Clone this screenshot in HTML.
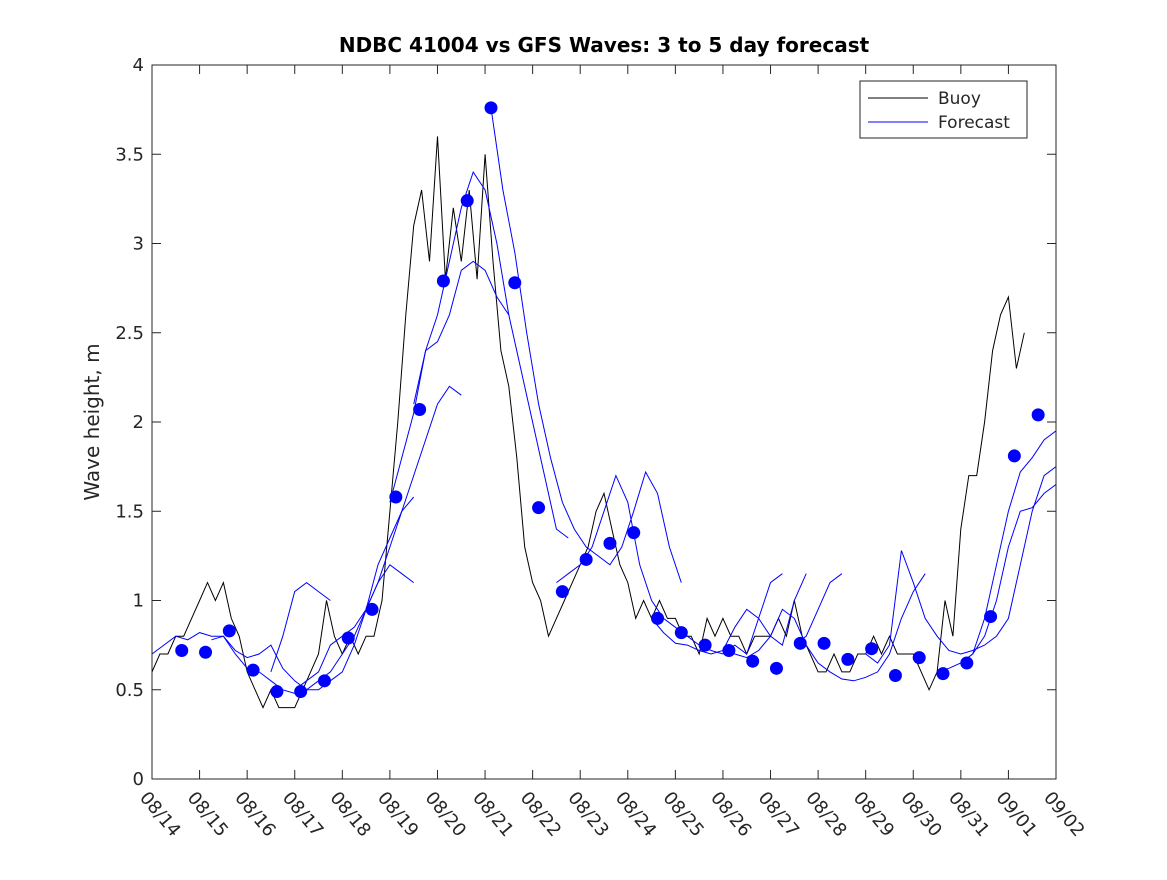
<!DOCTYPE html>
<html><head><meta charset="utf-8"><style>
body{margin:0;background:#fff}
svg text{font-family:"DejaVu Sans","Liberation Sans",sans-serif;fill:#262626}
</style></head><body>
<svg width="1167" height="875">
<defs><clipPath id="cp"><rect x="152" y="65" width="904" height="714"/></clipPath></defs>
<rect width="1167" height="875" fill="#fff"/>
<g id="plot"></g>
</svg>
<script>
const xLabels=["08/14","08/15","08/16","08/17","08/18","08/19","08/20","08/21","08/22","08/23","08/24","08/25","08/26","08/27","08/28","08/29","08/30","08/31","09/01","09/02"];
const yTicks=[0,0.5,1,1.5,2,2.5,3,3.5,4];
const buoyStart=0, buoyStep=1/6;
const buoyValues=[.6,.7,.7,.8,.8,.9, 1.0,1.1,1.0,1.1,.9,.8, .6,.5,.4,.5,.4,.4, .4,.5,.6,.7,1.0,.8, .7,.8,.7,.8,.8,1.0, 1.5,2.0,2.6,3.1,3.3,2.9, 3.6,2.8,3.2,2.9,3.3,2.8, 3.5,2.9,2.4,2.2,1.8,1.3, 1.1,1.0,.8,.9,1.0,1.1, 1.2,1.3,1.5,1.6,1.4,1.2, 1.1,.9,1.0,.9,1.0,.9, .9,.8,.8,.7,.9,.8, .9,.8,.8,.7,.8,.8, .8,.9,.8,1.0,.8,.7, .6,.6,.7,.6,.6,.7, .7,.8,.7,.8,.7,.7, .7,.6,.5,.6,1.0,.8, 1.4,1.7,1.7,2.0,2.4,2.6, 2.7,2.3,2.5];
const dotStart=0.625, dotStep=0.5;
const dotValues=[.72,.71,.83,.61,.49,.49,.55,.79,.95,1.58,2.07,2.79,3.24,3.76,2.78,1.52,1.05,1.23,1.32,1.38,.9,.82,.75,.72,.66,.62,.76,.76,.67,.73,.58,.68,.59,.65,.91,1.81,2.04];
const fcStep=0.25;
const fcStarts=[0,1.25,2.5,3,5,5.5,7.125,8.5,10.5,12,13.5,15,16.5,17];
const fcValues=[
[.7,.75,.8,.78,.82,.8,.8,.7,.62,.6,.55,.5,.48,.5,.55,.6,.7,.8,.95,1.1,1.3,1.5,1.7,1.9,2.1,2.2,2.15],
[.78,.8,.72,.68,.7,.75,.62,.55,.5,.5,.55,.6,.75,.95,1.1,1.2,1.15,1.1],
[.6,.8,1.05,1.1,1.05,1.0],
[.5,.55,.6,.75,.8,.85,.95,1.2,1.35,1.5,1.58],
[1.55,1.8,2.05,2.4,2.45,2.6,2.85,2.9,2.85,2.7,2.6],
[2.1,2.4,2.6,2.9,3.2,3.4,3.3,3.0,2.6,2.3,2.0,1.7,1.4,1.35],
[3.76,3.3,2.95,2.5,2.1,1.8,1.55,1.4,1.3,1.25,1.2,1.3,1.5,1.72,1.6,1.3,1.1],
[1.1,1.15,1.2,1.3,1.5,1.7,1.55,1.2,1.0,.9,.85,.8,.75,.72,.7,.75,.7,.9,1.1,1.15],
[.9,.82,.76,.75,.72,.7,.72,.85,.95,.9,.8,.75,1.0,1.15],
[.72,.7,.68,.72,.8,.95,.9,.75,.65,.6,.56,.55,.57,.6,.7,.9,1.05,1.15],
[.75,.8,.95,1.1,1.15],
[.7,.65,.75,1.28,1.1,.9,.8,.72,.7,.72,.75,.8,.9,1.2,1.5,1.7,1.75],
[.6,.62,.65,.7,.8,1.0,1.3,1.5,1.52,1.6,1.65],
[.65,.7,.9,1.2,1.5,1.72,1.8,1.9,1.95]];
const X0=152,X1=1056,Y0=779,Y1=65;
const xs=d=>X0+(X1-X0)*d/19, ys=v=>Y0-(Y0-Y1)*v/4;
const NS="http://www.w3.org/2000/svg", g=document.getElementById('plot');
function mk(t,a,parent){const e=document.createElementNS(NS,t);for(const k in a)e.setAttribute(k,a[k]);(parent||g).appendChild(e);return e;}
let e=mk('rect',{x:X0,y:Y1,width:X1-X0,height:Y0-Y1,fill:'#fff',stroke:'#262626','stroke-width':1});


const cg=mk('g',{'clip-path':'url(#cp)'});
let p=buoyValues.map((v,i)=>(i?'L':'M')+xs(buoyStart+i*buoyStep).toFixed(1)+','+ys(v).toFixed(1)).join('');
e=mk('path',{d:p,fill:'none',stroke:'#000','stroke-width':1},cg);


fcValues.forEach((arr,j)=>{
 const pp=arr.map((v,i)=>(i?'L':'M')+xs(fcStarts[j]+i*fcStep).toFixed(1)+','+ys(v).toFixed(1)).join('');
 const l=mk('path',{d:pp,fill:'none',stroke:'#0000ff','stroke-width':1},cg);
 
 
});
dotValues.forEach((v,i)=>{
 const c=mk('circle',{cx:xs(dotStart+i*dotStep),cy:ys(v),r:6.5,fill:'#0000ff'},cg);
 
 
});
yTicks.forEach(v=>{
 const y=ys(v);
 mk('line',{x1:X0,x2:X0+9,y1:y,y2:y,stroke:'#262626'});
 mk('line',{x1:X1,x2:X1-9,y1:y,y2:y,stroke:'#262626'});
 const t=mk('text',{x:X0-8,y:y+6,'text-anchor':'end','font-size':18});
 t.textContent=String(v);
 
 
});
xLabels.forEach((s,i)=>{
 const x=xs(i);
 mk('line',{x1:x,x2:x,y1:Y0,y2:Y0-9,stroke:'#262626'});
 mk('line',{x1:x,x2:x,y1:Y1,y2:Y1+9,stroke:'#262626'});
 const t=mk('text',{x:x-13,y:798,'font-size':18,transform:`rotate(50 ${x-13} 798)`});
 t.textContent=s;
 
 
});
e=mk('text',{x:604,y:52,'text-anchor':'middle','font-size':20,'font-weight':'bold',style:'fill:#000'});
e.textContent='NDBC 41004 vs GFS Waves: 3 to 5 day forecast';


e=mk('text',{x:99,y:422,'text-anchor':'middle','font-size':20,transform:'rotate(-90 99 422)'});
e.textContent='Wave height, m';


e=mk('rect',{x:860,y:81,width:167,height:57,fill:'#fff',stroke:'#262626'});


mk('line',{x1:868,x2:928,y1:98,y2:98,stroke:'#000'});
mk('line',{x1:868,x2:928,y1:122,y2:122,stroke:'#0000ff'});
e=mk('text',{x:938,y:104,'font-size':17});e.textContent='Buoy';


e=mk('text',{x:938,y:128,'font-size':17});e.textContent='Forecast';


</script>
</body></html>
